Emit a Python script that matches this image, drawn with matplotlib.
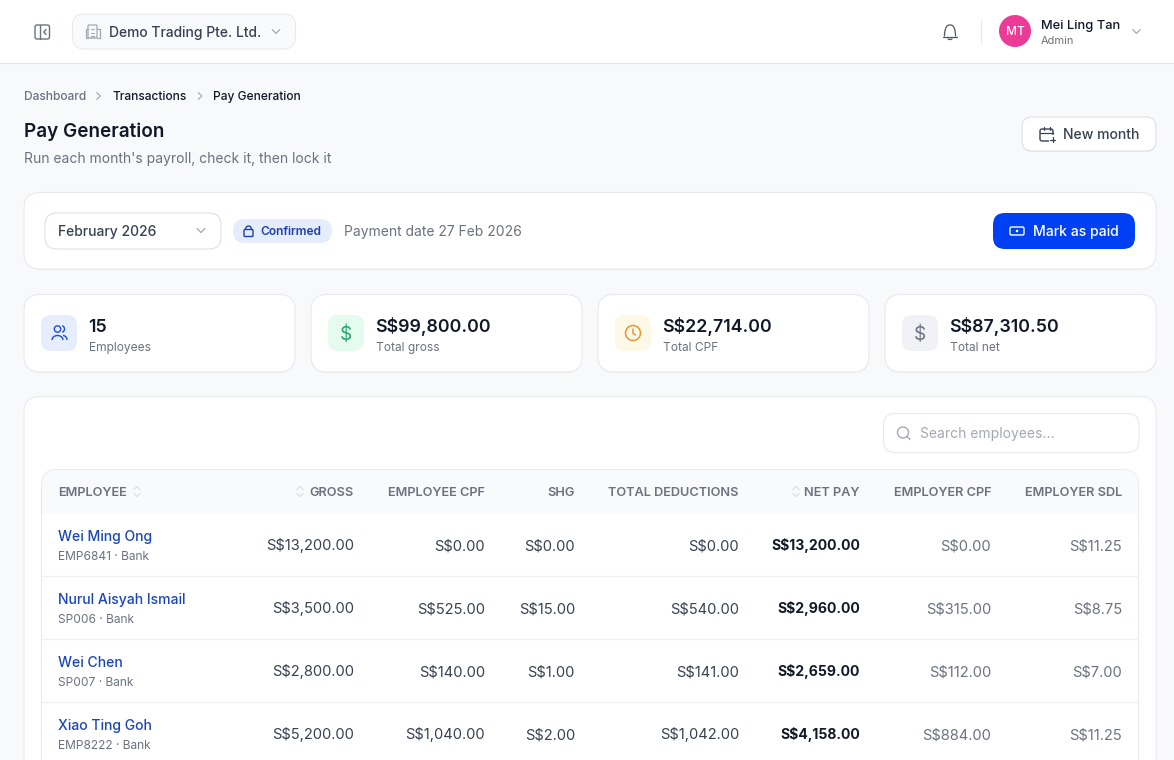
import numpy as np
import matplotlib
matplotlib.use("Agg")
import matplotlib.pyplot as plt
from matplotlib.patches import FancyBboxPatch, Circle, Arc

plt.rcParams['font.family'] = ['Inter', 'DejaVu Sans']

# table data
names = ["Wei Ming Ong", "Nurul Aisyah Ismail", "Wei Chen", "Xiao Ting Goh"]
subs = ["EMP6841 · Bank", "SP006 · Bank", "SP007 · Bank", "EMP8222 · Bank"]
gross = ["S$13,200.00", "S$3,500.00", "S$2,800.00", "S$5,200.00"]
emp_cpf = ["S$0.00", "S$525.00", "S$140.00", "S$1,040.00"]
shg = ["S$0.00", "S$15.00", "S$1.00", "S$2.00"]
deductions = ["S$0.00", "S$540.00", "S$141.00", "S$1,042.00"]
net_pay = ["S$13,200.00", "S$2,960.00", "S$2,659.00", "S$4,158.00"]
er_cpf = ["S$0.00", "S$315.00", "S$112.00", "S$884.00"]
er_sdl = ["S$11.25", "S$8.75", "S$7.00", "S$11.25"]
headers = ["GROSS", "EMPLOYEE CPF", "SHG", "TOTAL DEDUCTIONS", "NET PAY", "EMPLOYER CPF", "EMPLOYER SDL"]

stat_values = ["15", "S$99,800.00", "S$22,714.00", "S$87,310.50"]
stat_labels = ["Employees", "Total gross", "Total CPF", "Total net"]
stat_tints = ["#e6edfd", "#e6fbf0", "#fef8e6", "#f0f2f6"]
stat_inks = ["#1d4ed8", "#22a86b", "#e8962e", "#6b7280"]

# layout
col_right = [354, 485, 575, 739, 860, 991, 1122]
stat_left = [24, 311, 598, 885]
row_mid = [545, 608, 671, 734]

INK = "#111827"
TEXT = "#374151"
MUTED = "#6b7280"
LINE = "#e7e9ee"

fig = plt.figure(figsize=(11.74, 7.6), dpi=100, facecolor="#f8f9fb")
ax = fig.add_axes([0, 0, 1, 1])
ax.set_xlim(0, 1174)
ax.set_ylim(760, 0)
ax.axis("off")


def box(x0, y0, x1, y1, r, fc="white", ec=LINE, lw=0.75, z=1):
    p = FancyBboxPatch((x0 + r, y0 + r), x1 - x0 - 2 * r, y1 - y0 - 2 * r,
                       boxstyle="round,pad=%f,rounding_size=%f" % (r, r),
                       fc=fc, ec=ec, lw=lw, zorder=z)
    ax.add_patch(p)
    return p


def card(x0, y0, x1, y1, r):
    box(x0, y0 + 1, x1, y1 + 1, r, fc="#eff0f3", ec="none", z=1)
    box(x0, y0, x1, y1, r, z=2)


def txt(x, y, s, px=14, color=TEXT, weight="normal", ha="left", z=6):
    # y is middle of the text line, convert to baseline
    ax.text(x, y + 0.36 * px, s, fontsize=px * 0.72, color=color, weight=weight,
            ha=ha, va="baseline", zorder=z)


def stroke(xs, ys, color, lw=1.1, z=6):
    ax.plot(xs, ys, color=color, lw=lw, solid_capstyle="round",
            solid_joinstyle="round", zorder=z)


def chevron(x, y, s, color, lw=0.9, kind="down"):
    if kind == "down":
        stroke([x - s, x, x + s], [y - s / 2, y + s / 2, y - s / 2], color, lw)
    elif kind == "up":
        stroke([x - s, x, x + s], [y + s / 2, y - s / 2, y + s / 2], color, lw)
    else:
        stroke([x - s / 2, x + s / 2, x - s / 2], [y - s, y, y + s], color, lw)


def sort_icon(x, y):
    chevron(x, y - 3.5, 3.2, "#d5d8de", 0.7, "up")
    chevron(x, y + 3.5, 3.2, "#d5d8de", 0.7, "down")


def dollar(x, y, color):
    txt(x, y, "$", px=19, color=color, ha="center")


# top bar
ax.fill_between([0, 1174], 0, 63, color="white", lw=0, zorder=1)
stroke([0, 1174], [63.3, 63.3], "#e2e4e9", 0.8, 2)

box(35, 25, 49.5, 39, 2, fc="none", ec="#6b7280", lw=1.0, z=5)
stroke([39.5, 39.5], [25, 39], "#6b7280", 1.0)
stroke([46, 43.8, 46], [29.5, 32, 34.5], "#6b7280", 1.0)

box(72.5, 14, 295.5, 49, 12, fc="#f8fafc", ec=LINE)
box(88, 25, 97, 38, 1, fc="none", ec="#a3a9b3", lw=0.9, z=5)
stroke([88, 86, 86, 88], [29, 29, 38, 38], "#a3a9b3", 0.9)
stroke([97, 100, 100, 97], [29, 29, 38, 38], "#a3a9b3", 0.9)
stroke([91, 94], [29, 29], "#a3a9b3", 0.8)
stroke([91, 94], [32.5, 32.5], "#a3a9b3", 0.8)
stroke([91, 91, 94, 94], [38, 35.5, 35.5, 38], "#a3a9b3", 0.8)
txt(109, 32, "Demo Trading Pte. Ltd.", 13.85, TEXT, "medium")
chevron(276, 31.5, 3.8, "#a3a9b3", 0.9)

# bell
bx = np.linspace(-5.6, 5.6, 30)
stroke(950 + bx, 36 - 11 * (1 - (np.abs(bx) / 5.6) ** 3) ** 0.6, "#4b5563", 0.9)
stroke([943, 957], [36.5, 36.5], "#4b5563", 0.9)
stroke([948, 950, 952], [39, 39.6, 39], "#4b5563", 0.9)
stroke([980.5, 980.5], [20, 43], LINE, 0.9)

ax.add_patch(Circle((1015, 31), 16, fc="#ec3a97", ec="none", zorder=5))
txt(1015, 31, "MT", 12, "white", "medium", ha="center")
txt(1041, 24.5, "Mei Ling Tan", 12.9, INK, "medium")
txt(1041, 40.5, "Admin", 11, MUTED)
chevron(1136.5, 31.5, 3.8, "#a3a9b3", 0.9)

# page heading
txt(24, 96, "Dashboard", 12, MUTED, "medium")
chevron(98.5, 96, 3.4, "#a3a9b3", 0.9, "right")
txt(112.6, 96, "Transactions", 12, INK, "medium")
chevron(200, 96, 3.4, "#a3a9b3", 0.9, "right")
txt(212.6, 96, "Pay Generation", 12, INK, "medium")
txt(24, 130, "Pay Generation", 18.9, INK, "semibold")
txt(24, 158, "Run each month's payroll, check it, then lock it", 13.9, MUTED)

box(1022, 118, 1156, 152, 10, fc="#eceef1", ec="none")
box(1022, 117, 1156, 151, 10, fc="white", ec="#d9dce2", lw=0.7)
box(1040, 129, 1053, 141, 2, fc="none", ec=TEXT, lw=1.0, z=5)
stroke([1040, 1053], [132.5, 132.5], TEXT, 0.9)
stroke([1043.5, 1043.5], [127, 130], TEXT, 0.9)
stroke([1049.5, 1049.5], [127, 130], TEXT, 0.9)
box(1049, 135, 1056, 143, 0.5, fc="white", ec="none", z=6)
stroke([1050, 1055], [139.5, 139.5], TEXT, 0.9, 7)
stroke([1052.5, 1052.5], [137, 142], TEXT, 0.9, 7)
txt(1063, 134, "New month", 14, TEXT, "medium")

# period bar
card(24, 192.5, 1156, 269, 16)
box(45, 213, 221, 249, 12, ec="#d9dce2", lw=0.7, z=3)
txt(58, 231, "February 2026", 13.9, TEXT, "medium")
chevron(201, 230.5, 4, "#a3a9b3", 0.9)
box(233, 219, 332, 243, 12, fc="#e5edfd", ec="none", z=3)
box(244, 229.5, 253, 236.5, 1, fc="none", ec="#1e40af", lw=1.0, z=5)
ax.add_patch(Arc((248.5, 229.5), 6, 7, theta1=180, theta2=360, ec="#1e40af", lw=1.0, zorder=5))
txt(260.7, 231, "Confirmed", 12, "#1e40af", "semibold")
txt(344, 231, "Payment date 27 Feb 2026", 13.9, MUTED)
box(993, 213, 1135, 249, 12, fc="#0040f5", ec="none", z=3)
box(1010, 227, 1024, 235, 1.5, fc="none", ec="white", lw=1.0, z=5)
ax.add_patch(Circle((1017, 231), 1.3, fc="white", ec="none", zorder=5))
txt(1033, 231, "Mark as paid", 14, "white", "medium")

# stat cards
for i in range(4):
    x = stat_left[i]
    card(x, 294.5, x + 271, 372, 16)
    box(x + 17, 315, x + 53, 351, 10, fc=stat_tints[i], ec="none", z=3)
    txt(x + 64.4, 325.5, stat_values[i], 17.8, INK, "semibold")
    txt(x + 65, 347, stat_labels[i], 12, MUTED)
    cx = x + 35
    if i == 0:
        ink = stat_inks[0]
        ax.add_patch(Circle((cx - 1.5, 329), 3.2, fc="none", ec=ink, lw=1.0, zorder=5))
        ax.add_patch(Arc((cx - 1.5, 340), 11, 9, theta1=180, theta2=360, ec=ink, lw=1.0, zorder=5))
        ax.add_patch(Arc((cx + 2, 329), 7, 7, theta1=-70, theta2=70, ec=ink, lw=1.0, zorder=5))
        ax.add_patch(Arc((cx + 4, 340), 8, 9, theta1=270, theta2=360, ec=ink, lw=1.0, zorder=5))
    elif i == 2:
        ink = stat_inks[2]
        ax.add_patch(Circle((cx, 333), 7.5, fc="none", ec=ink, lw=1.1, zorder=5))
        stroke([cx, cx, cx + 2.6], [329, 333.5, 335], ink, 1.1)
    else:
        dollar(cx, 333, stat_inks[i])

# table card, runs off the bottom of the page
card(24, 396.5, 1156, 800, 16)
box(883.5, 413.5, 1139, 452.5, 12, ec=LINE, z=3)
ax.add_patch(Circle((903, 432.5), 5.5, fc="none", ec="#a3a9b3", lw=1.0, zorder=5))
stroke([907, 910], [436.5, 439.5], "#a3a9b3", 1.0)
txt(920, 433, "Search employees...", 13.9, "#a3a9b3")

box(41.5, 469.5, 1138.5, 800, 16, ec=LINE, z=3)
box(42, 470, 1138, 530, 16, fc="#f8fafc", ec="none", z=3)
ax.fill_between([42, 1138], 514, 540, color="white", lw=0, zorder=3)
txt(58, 491.5, "EMPLOYEE", 12.8, MUTED, "semibold")
sort_icon(137, 491.5)
for h, x in zip(headers, col_right):
    txt(x, 491.5, h, 12.8, MUTED, "semibold", ha="right")
sort_icon(300, 491.5)
sort_icon(796, 491.5)

columns = [gross, emp_cpf, shg, deductions, net_pay, er_cpf, er_sdl]
for r, y in enumerate(row_mid):
    txt(58, y - 9, names[r], 14, "#1a47b8", "medium")
    txt(58, y + 10.5, subs[r], 12, MUTED)
    for c, x in enumerate(col_right):
        if c == 4:
            txt(x, y, columns[c][r], 14, INK, "bold", ha="right")
        elif c >= 5:
            txt(x, y, columns[c][r], 14.7, MUTED, ha="right")
        else:
            txt(x, y, columns[c][r], 14.7, TEXT, ha="right")
    if y + 31 < 760:
        stroke([42, 1138], [y + 31, y + 31], "#eef0f3", 0.9, 4)

fig.savefig("out.png", dpi=100, facecolor=fig.get_facecolor())
